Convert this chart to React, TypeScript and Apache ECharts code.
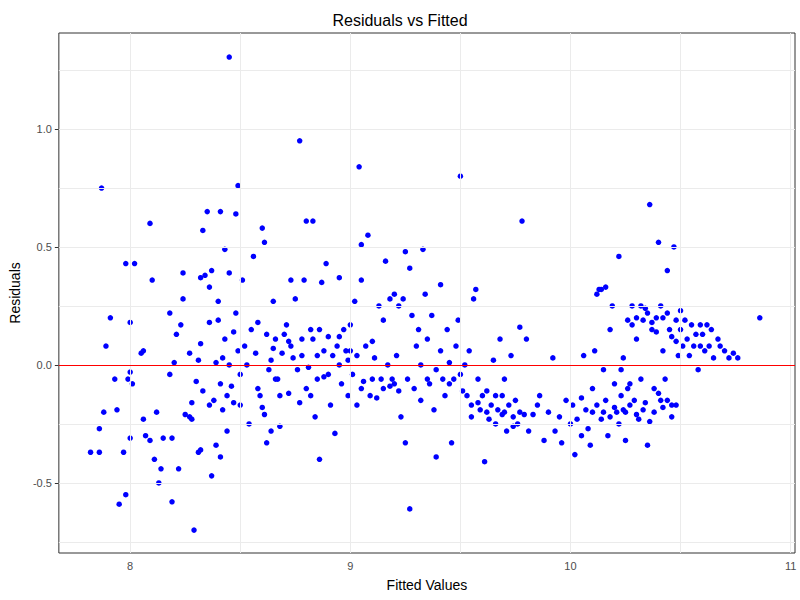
import React, { useEffect, useRef } from "react";
import * as echarts from "echarts";

const xTicks = [8, 9, 10, 11];
const yTicks = [-0.5, 0, 0.5, 1.0];
const xMinor = [8.5, 9.5, 10.5];
const yMinor = [-0.75, -0.25, 0.25, 0.75, 1.25];

const points: [number, number][] = [
[7.82,-0.37],[7.86,-0.37],[7.87,0.75],[7.89,0.08],[7.91,0.2],[7.86,-0.27],[7.88,-0.2],[7.95,-0.59],[7.94,-0.19],[7.93,-0.06],
[7.98,-0.55],[7.98,0.43],[8.02,0.43],[8.0,0.18],[7.99,-0.06],[8.0,-0.03],[8.0,-0.31],[7.97,-0.37],[8.01,-0.08],[8.05,0.05],
[8.06,0.06],[8.06,-0.23],[8.07,-0.3],[8.09,0.6],[8.1,0.36],[8.09,-0.32],[8.11,-0.4],[8.12,-0.2],[8.13,-0.5],[8.14,-0.44],
[8.15,-0.31],[8.18,0.22],[8.18,-0.04],[8.19,-0.31],[8.19,-0.58],[8.2,0.01],[8.21,0.13],[8.22,-0.44],[8.23,0.17],[8.24,0.28],
[8.24,0.39],[8.25,-0.21],[8.27,-0.22],[8.27,0.05],[8.28,-0.23],[8.28,-0.16],[8.29,-0.7],[8.3,-0.07],[8.31,0.02],[8.31,-0.37],
[8.32,0.09],[8.32,0.37],[8.32,-0.36],[8.33,-0.11],[8.33,0.57],[8.34,0.38],[8.35,0.65],[8.36,-0.17],[8.36,0.18],[8.36,0.33],
[8.37,0.4],[8.37,-0.47],[8.38,-0.15],[8.39,0.01],[8.39,-0.34],[8.4,0.27],[8.4,0.19],[8.41,-0.08],[8.41,0.65],[8.41,-0.39],
[8.42,0.03],[8.42,-0.19],[8.43,0.49],[8.43,0.11],[8.44,-0.13],[8.44,-0.28],[8.45,1.305],[8.45,0.0],[8.45,0.39],[8.46,-0.09],
[8.47,0.14],[8.47,-0.16],[8.48,0.64],[8.48,0.22],[8.49,0.06],[8.49,0.76],[8.5,-0.04],[8.5,-0.17],[8.51,0.36],[8.52,0.08],
[8.53,0.0],[8.54,-0.25],[8.55,0.15],[8.56,0.46],[8.57,0.05],[8.58,-0.1],[8.59,-0.13],[8.6,0.58],[8.61,0.52],[8.61,-0.21],
[8.62,-0.33],[8.62,0.13],[8.63,-0.02],[8.64,0.02],[8.64,-0.28],[8.65,0.07],[8.65,0.27],[8.66,-0.06],[8.67,-0.06],[8.68,-0.13],
[8.68,-0.26],[8.69,0.05],[8.7,0.13],[8.71,0.17],[8.72,-0.12],[8.73,0.36],[8.73,0.08],[8.74,0.03],[8.75,0.28],[8.76,-0.02],
[8.77,-0.16],[8.77,0.95],[8.78,0.11],[8.78,0.04],[8.79,0.36],[8.8,0.61],[8.8,-0.1],[8.81,-0.01],[8.82,0.15],[8.82,-0.13],
[8.83,0.61],[8.83,0.11],[8.84,-0.22],[8.85,-0.06],[8.85,0.04],[8.86,-0.4],[8.86,0.15],[8.87,0.35],[8.88,0.06],[8.89,0.43],
[8.9,-0.04],[8.91,-0.17],[8.92,0.04],[8.93,-0.29],[8.94,0.08],[8.95,0.37],[8.95,0.0],[8.96,-0.08],[8.97,0.15],[8.98,0.06],
[8.99,0.02],[8.99,-0.13],[9.0,0.17],[9.01,-0.04],[9.02,0.27],[9.03,-0.17],[9.03,0.04],[9.04,0.84],[9.05,0.36],[9.05,0.51],
[9.06,-0.07],[9.07,0.08],[9.08,0.55],[9.09,-0.13],[9.1,-0.06],[9.11,0.03],[9.12,-0.14],[9.13,0.25],[9.14,-0.06],[9.15,0.19],
[9.15,-0.1],[9.16,0.44],[9.17,0.0],[9.18,0.28],[9.19,-0.06],[9.2,0.3],[9.21,0.04],[9.22,-0.11],[9.22,0.25],[9.23,-0.22],
[9.24,0.28],[9.25,0.48],[9.25,-0.33],[9.26,-0.06],[9.27,0.41],[9.27,-0.61],[9.28,0.21],[9.29,-0.1],[9.3,0.08],[9.31,0.15],
[9.32,-0.15],[9.32,0.0],[9.33,0.49],[9.34,0.3],[9.35,0.11],[9.36,-0.08],[9.37,0.21],[9.38,-0.19],[9.39,-0.02],[9.39,-0.39],
[9.41,0.06],[9.41,0.34],[9.42,-0.06],[9.43,-0.13],[9.44,0.15],[9.45,0.01],[9.46,-0.33],[9.47,-0.06],[9.48,0.08],[9.49,0.19],
[9.5,-0.04],[9.5,0.8],[9.51,-0.11],[9.52,0.0],[9.53,-0.13],[9.54,0.06],[9.55,-0.17],[9.56,0.28],[9.57,0.32],[9.58,-0.06],
[9.59,-0.19],[9.6,-0.13],[9.61,-0.41],[9.62,-0.11],[9.63,-0.23],[9.64,-0.17],[9.65,0.02],[9.66,-0.13],[9.67,-0.19],[9.68,0.11],
[9.69,-0.13],[9.69,-0.21],[9.7,-0.06],[9.71,-0.28],[9.72,-0.17],[9.73,0.04],[9.74,-0.22],[9.75,-0.15],[9.76,-0.25],[9.77,0.16],
[9.77,-0.2],[9.78,0.61],[9.79,-0.21],[9.8,0.11],[9.81,-0.28],[9.83,-0.21],[9.85,-0.17],[9.86,-0.13],[9.88,-0.32],[9.9,-0.2],
[9.92,0.03],[9.93,-0.28],[9.95,-0.22],[9.96,-0.33],[9.98,-0.15],[10.0,-0.25],[10.01,-0.17],[10.02,-0.38],[10.03,-0.23],[10.05,-0.14],
[10.05,-0.3],[10.06,0.04],[10.07,-0.19],[10.08,-0.27],[10.09,-0.34],[10.1,-0.1],[10.11,0.06],[10.12,-0.17],[10.13,0.32],[10.14,-0.23],
[10.14,0.32],[10.15,-0.02],[10.16,-0.15],[10.17,-0.3],[10.18,0.15],[10.19,0.25],[10.2,-0.08],[10.21,-0.2],[10.22,0.46],[10.23,-0.13],
[10.23,-0.02],[10.24,-0.19],[10.25,-0.32],[10.26,0.19],[10.27,-0.08],[10.28,0.25],[10.29,-0.15],[10.3,0.11],[10.31,-0.23],[10.32,0.25],
[10.32,-0.06],[10.33,0.19],[10.34,-0.16],[10.35,-0.34],[10.36,0.68],[10.37,0.15],[10.38,-0.1],[10.39,0.2],[10.4,0.52],[10.41,-0.15],
[10.41,0.25],[10.42,0.06],[10.43,-0.06],[10.44,0.4],[10.45,0.15],[10.46,-0.17],[10.47,0.5],[10.48,0.19],[10.49,0.04],[10.5,0.15],
[10.5,0.23],[10.51,0.08],[10.52,0.19],[10.53,0.11],[10.54,0.04],[10.55,0.17],[10.56,0.08],[10.57,0.13],[10.58,-0.02],[10.59,0.17],
[10.59,0.08],[10.6,0.13],[10.61,0.06],[10.62,0.17],[10.63,0.08],[10.64,0.15],[10.65,0.03],[10.67,0.11],[10.68,0.08],[10.7,0.06],
[10.72,0.03],[10.74,0.05],[10.76,0.03],[10.86,0.2],
[10.15,-0.2],[10.18,-0.22],[10.2,-0.18],[10.22,-0.25],[10.25,-0.2],[10.27,-0.17],[10.3,-0.21],[10.33,-0.19],[10.36,-0.24],[10.38,-0.2],
[10.4,-0.12],[10.42,-0.18],[10.44,-0.15],[10.46,-0.22],[10.48,-0.17],[10.3,0.2],[10.34,0.24],[10.37,0.18],[10.39,0.14],[10.42,0.2],
[10.44,0.22],[10.46,0.12],[10.48,0.1],[10.35,0.22],[10.28,0.17],[10.26,-0.1],[10.24,0.03],[10.12,0.3],[10.16,0.33],[10.1,-0.2],
[9.62,-0.2],[9.66,-0.25],[9.7,-0.2],[9.74,-0.26],[9.58,-0.16],[9.55,-0.22],[9.45,-0.08],[9.35,-0.06],[9.2,-0.08],[9.1,0.1],
[8.95,0.12],[8.88,-0.05],[8.72,0.1],[8.66,0.11],[8.58,0.18],[8.6,-0.18],[8.9,0.12],[9.0,0.06],[9.05,-0.1],[9.18,-0.09]
];

export default function App() {
  const ref = useRef<HTMLDivElement>(null);
  useEffect(() => {
    const chart = echarts.init(ref.current!, null, { renderer: "svg" });
    const grey = "#ebebeb";
    const mkLines = [
      ...xTicks.map((v) => ({ xAxis: v })),
      ...xMinor.map((v) => ({ xAxis: v })),
      ...yTicks.map((v) => ({ yAxis: v })),
      ...yMinor.map((v) => ({ yAxis: v })),
    ];
    chart.setOption({
      animation: false,
      backgroundColor: "#fff",
      title: {
        text: "Residuals vs Fitted", left: "center", top: 7,
        textStyle: { fontSize: 16, fontWeight: "normal", color: "#000", fontFamily: "Liberation Sans" },
      },
      grid: { left: 52, right: 5, top: 33, bottom: 47, show: true, borderColor: "#333", borderWidth: 1, backgroundColor: "transparent" },
      xAxis: {
        type: "value", min: 7.676, max: 11.02,
        name: "Fitted Values", nameLocation: "middle", nameGap: 25,
        nameTextStyle: { fontSize: 14, color: "#000", fontFamily: "Liberation Sans" },
        axisLine: { show: false }, splitLine: { show: false },
        axisTick: { show: true, length: 4, customValues: xTicks, lineStyle: { color: "#333" } },
        axisLabel: { customValues: xTicks, color: "#4d4d4d", fontSize: 11, margin: 7, fontFamily: "Liberation Sans" },
      },
      yAxis: {
        type: "value", min: -0.797, max: 1.407,
        name: "Residuals", nameLocation: "middle", nameGap: 32, nameRotate: 90,
        nameTextStyle: { fontSize: 14, color: "#000", fontFamily: "Liberation Sans" },
        axisLine: { show: false }, splitLine: { show: false },
        axisTick: { show: true, length: 4, customValues: yTicks, lineStyle: { color: "#333" } },
        axisLabel: { customValues: yTicks, color: "#4d4d4d", fontSize: 11, margin: 7, fontFamily: "Liberation Sans",
          formatter: (v: number) => v.toFixed(1) },
      },
      series: [
        {
          type: "scatter", data: [], silent: true,
          markLine: { silent: true, symbol: "none", label: { show: false }, lineStyle: { color: grey, type: "solid", width: 1 }, data: mkLines },
        },
        {
          type: "scatter", data: points, symbolSize: 5.5, itemStyle: { color: "#0000ff", opacity: 1 },
          markLine: { silent: true, symbol: "none", label: { show: false }, lineStyle: { color: "#ff0000", type: "solid", width: 1 }, data: [{ yAxis: 0 }] },
        },
      ],
    });
    return () => chart.dispose();
  }, []);
  return <div ref={ref} style={{ position: "absolute", left: 0, top: 0, width: 800, height: 600 }} />;
}
